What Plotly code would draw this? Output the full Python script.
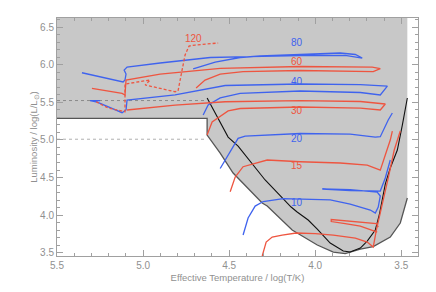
import plotly.graph_objects as go

# ---------------- data (logTeff, logL) ----------------
M120_T = [5.273, 5.203, 5.105, 5.105, 5.105, 4.959, 4.988, 4.814, 4.797, 4.779, 4.756, 4.733, 4.698, 4.564]
M120_L = [5.509, 5.425, 5.376, 5.559, 5.745, 5.798, 5.732, 5.642, 5.652, 5.865, 6.131, 6.251, 6.264, 6.291]

M80_T = [4.709, 4.581, 4.436, 4.320, 4.087, 3.855, 3.767, 3.727, 3.826, 4.087, 4.378, 4.610, 4.901, 5.093, 5.110, 5.099, 5.105, 5.116, 5.355]
M80_L = [5.945, 6.038, 6.098, 6.118, 6.138, 6.158, 6.138, 6.091, 6.125, 6.125, 6.111, 6.098, 6.025, 5.971, 5.931, 5.878, 5.798, 5.772, 5.895]

M60_T = [4.692, 4.640, 4.552, 4.419, 4.087, 3.797, 3.663, 3.622, 3.669, 4.087, 4.552, 4.901, 5.099, 5.105, 5.122, 5.297]
M60_L = [5.692, 5.798, 5.878, 5.909, 5.925, 5.918, 5.909, 5.951, 5.971, 5.978, 5.954, 5.878, 5.798, 5.599, 5.621, 5.688]

M40_T = [4.651, 4.622, 4.552, 4.436, 4.087, 3.738, 3.622, 3.581, 3.738, 4.087, 4.523, 4.814, 5.093, 5.099, 5.122, 5.273, 5.308, 5.250]
M40_L = [5.332, 5.465, 5.559, 5.621, 5.652, 5.632, 5.599, 5.718, 5.738, 5.745, 5.725, 5.599, 5.532, 5.399, 5.363, 5.509, 5.523, 5.525]

M30_T = [4.628, 4.599, 4.506, 4.436, 4.087, 3.738, 3.622, 3.593, 3.738, 4.087, 4.523, 4.814, 5.093]
M30_L = [5.065, 5.239, 5.386, 5.419, 5.439, 5.425, 5.399, 5.479, 5.512, 5.525, 5.509, 5.465, 5.399]

M20_T = [4.552, 4.512, 4.448, 4.407, 4.087, 3.797, 3.651, 3.622, 3.599, 3.576, 3.552]
M20_L = [4.620, 4.773, 5.022, 5.052, 5.086, 5.079, 5.039, 5.043, 5.159, 5.266, 5.359]

M15_T = [4.494, 4.465, 4.419, 4.279, 4.087, 3.855, 3.698, 3.622, 3.593, 3.564, 3.552]
M15_L = [4.311, 4.507, 4.644, 4.733, 4.710, 4.693, 4.666, 4.599, 4.799, 4.999, 5.119]

M12_T = [3.640, 3.738, 3.826, 3.907, 3.907, 3.797, 3.721, 3.645, 3.634]
M12_L = [3.774, 3.854, 3.887, 3.914, 3.941, 3.921, 3.907, 3.887, 3.840]

M10_T = [4.419, 4.390, 4.349, 4.302, 4.186, 4.087, 3.913, 3.797, 3.680, 3.651, 3.634, 3.622, 3.640, 3.797, 3.959, 3.797, 3.622, 3.593, 3.564]
M10_L = [3.734, 3.961, 4.120, 4.180, 4.220, 4.214, 4.201, 4.147, 4.067, 4.027, 4.107, 4.254, 4.307, 4.340, 4.347, 4.327, 4.320, 4.493, 4.733]

M9_T = [4.308, 4.285, 4.250, 4.192, 4.110, 4.000, 3.895, 3.767, 3.698, 3.663, 3.645, 3.610, 3.576, 3.541, 3.506]
M9_L = [3.455, 3.641, 3.707, 3.734, 3.761, 3.754, 3.734, 3.694, 3.641, 3.574, 3.801, 4.134, 4.493, 4.866, 5.119]

BLACK_T = [4.628, 4.581, 4.506, 4.448, 4.337, 4.291, 4.140, 4.105, 4.041, 3.988, 3.913, 3.837, 3.797, 3.738, 3.698, 3.651,
           3.628, 3.610, 3.593, 3.564, 3.523, 3.494, 3.465]
BLACK_L = [5.559, 5.359, 5.039, 4.919, 4.599, 4.467, 4.107, 4.041, 3.934, 3.814, 3.627, 3.521, 3.508, 3.561, 3.654, 3.801,
           4.001, 4.201, 4.413, 4.626, 4.866, 5.199, 5.559]

EDGE_T = [4.628, 4.552, 4.477, 4.308, 4.279, 4.134, 4.105, 3.988, 3.895, 3.826, 3.738, 3.663, 3.564, 3.506, 3.465]
EDGE_L = [5.065, 4.826, 4.560, 4.160, 4.120, 3.801, 3.761, 3.601, 3.508, 3.488, 3.548, 3.581, 3.707, 3.894, 4.227]

SHADE_LEFT_L = 5.288
SHADE_RIGHT_T = 3.465
DOT_HI_L = 5.525
DOT_LO_L = 5.010

LABELS = ["120", "80", "60", "40", "30", "20", "15", "10"]
LABEL_T = [4.709, 4.106, 4.106, 4.106, 4.106, 4.106, 4.106, 4.106]
LABEL_L = [6.354, 6.295, 6.042, 5.785, 5.386, 5.022, 4.666, 4.161]

RED = "#EE5540"
BLUE = "#3F63EE"
LABEL_COL = [RED, BLUE, RED, BLUE, RED, BLUE, RED, BLUE]

X_RANGE = [5.5, 3.403]
Y_RANGE = [3.455, 6.624]

# ---------------- figure ----------------
fig = go.Figure()

# grey shaded region
top = 7.0
poly_T = [5.6, SHADE_RIGHT_T, SHADE_RIGHT_T] + EDGE_T[::-1] + [EDGE_T[0], 5.6]
poly_L = [top, top, EDGE_L[-1]] + EDGE_L[::-1] + [SHADE_LEFT_L, SHADE_LEFT_L]
fig.add_trace(go.Scatter(x=poly_T, y=poly_L, fill="toself", fillcolor="#c8c8c8",
                         line=dict(width=0), mode="lines", hoverinfo="skip"))

# dotted lines
fig.add_trace(go.Scatter(x=[5.5, EDGE_T[0]], y=[DOT_HI_L, DOT_HI_L], mode="lines",
                         line=dict(color="#8a8a8a", width=1, dash="dot")))
fig.add_trace(go.Scatter(x=[5.5, EDGE_T[0]], y=[DOT_LO_L, DOT_LO_L], mode="lines",
                         line=dict(color="#b0b0b0", width=1, dash="dot")))

# edge of the shaded region
fig.add_trace(go.Scatter(x=[5.6, EDGE_T[0]] + EDGE_T, y=[SHADE_LEFT_L, SHADE_LEFT_L] + EDGE_L,
                         mode="lines", line=dict(color="#555555", width=1.3)))

# black line
fig.add_trace(go.Scatter(x=BLACK_T, y=BLACK_L, mode="lines", line=dict(color="#111111", width=1.1)))

tracks = [
    (M80_T, M80_L, BLUE, "solid"),
    (M60_T, M60_L, RED, "solid"),
    (M40_T, M40_L, BLUE, "solid"),
    (M30_T, M30_L, RED, "solid"),
    (M20_T, M20_L, BLUE, "solid"),
    (M15_T, M15_L, RED, "solid"),
    (M12_T, M12_L, RED, "solid"),
    (M10_T, M10_L, BLUE, "solid"),
    (M9_T, M9_L, RED, "solid"),
    (M120_T, M120_L, RED, "3px,2px"),
]
for t, l, c, d in tracks:
    fig.add_trace(go.Scatter(x=t, y=l, mode="lines", line=dict(color=c, width=1.3, dash=d)))

for txt, t, l, c in zip(LABELS, LABEL_T, LABEL_L, LABEL_COL):
    fig.add_annotation(x=t, y=l, text=txt, showarrow=False,
                       font=dict(color=c, size=10, family="Liberation Sans, Arial"))

axis_common = dict(showgrid=False, zeroline=False, showline=True, linecolor="#a0a0a0", linewidth=1,
                   mirror="ticks", ticks="inside", ticklen=6, tickcolor="#a0a0a0", automargin=False,
                   tickfont=dict(color="#909090", size=10, family="Liberation Sans, Arial"))

fig.update_xaxes(range=X_RANGE, tickvals=[5.5, 5.0, 4.5, 4.0, 3.5], ticktext=["5.5", "5.0", "4.5", "4.0", "3.5"],
                 minor=dict(dtick=0.1, ticklen=3, ticks="inside", tickcolor="#a0a0a0"),
                 title=dict(text="Effective Temperature / log(T/K)", standoff=4,
                            font=dict(color="#909090", size=9.5, family="Liberation Sans, Arial")),
                 **axis_common)
fig.update_yaxes(range=Y_RANGE, tickvals=[3.5, 4.0, 4.5, 5.0, 5.5, 6.0, 6.5],
                 ticktext=["3.5", "4.0", "4.5", "5.0", "5.5", "6.0", "6.5"],
                 minor=dict(dtick=0.1, tick0=3.5, ticklen=3, ticks="inside", tickcolor="#a0a0a0"),
                 title=dict(text="Luminosity / log(L/L<sub>⊙</sub>)", standoff=0,
                            font=dict(color="#909090", size=9.5, family="Liberation Sans, Arial")),
                 **axis_common)

# page body has an 8px margin, so margins are offset to keep the plot area in place
fig.update_layout(width=436, height=292, margin=dict(l=49, r=26, t=10, b=44),
                  paper_bgcolor="white", plot_bgcolor="white", showlegend=False)

fig.write_html("out.html")
